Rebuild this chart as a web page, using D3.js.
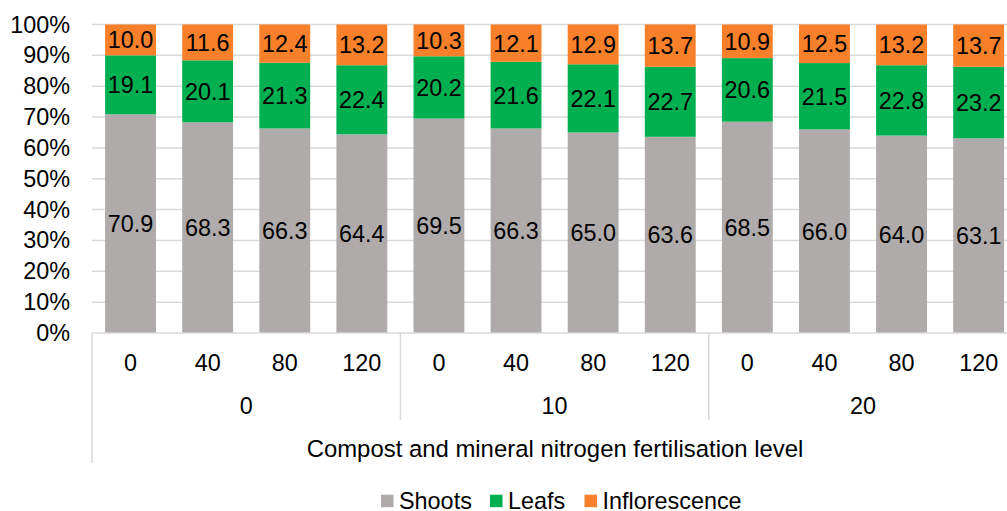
<!DOCTYPE html>
<html>
<head>
<meta charset="utf-8">
<script src="https://cdn.jsdelivr.net/npm/d3@7"></script>
<style>
  html, body { margin: 0; padding: 0; background: #fff; overflow: hidden; }
  svg { display: block; font-family: "Liberation Sans", Arial, sans-serif; }
</style>
</head>
<body>
<svg id="chart" width="1007" height="511"></svg>
<script>
// Nitrogen levels within each compost group, and the compost groups
const nitrogenLevels = ["0", "40", "80", "120"];
const compostLevels = ["0", "10", "20"];

// Share of biomass (%) per plant part, one value per bar (compost x nitrogen)
const shoots        = [70.9, 68.3, 66.3, 64.4, 69.5, 66.3, 65.0, 63.6, 68.5, 66.0, 64.0, 63.1];
const leafs         = [19.1, 20.1, 21.3, 22.4, 20.2, 21.6, 22.1, 22.7, 20.6, 21.5, 22.8, 23.2];
const inflorescence = [10.0, 11.6, 12.4, 13.2, 10.3, 12.1, 12.9, 13.7, 10.9, 12.5, 13.2, 13.7];

const seriesNames  = ["Shoots", "Leafs", "Inflorescence"];
const seriesColors = ["#AFABAB", "#00B050", "#F8802A"];
const yTicks = [0, 10, 20, 30, 40, 50, 60, 70, 80, 90, 100];
const axisTitle = "Compost and mineral nitrogen fertilisation level";

// Flat table of bars
const rows = [];
compostLevels.forEach((c, gi) => {
  nitrogenLevels.forEach((n, ni) => {
    const i = gi * nitrogenLevels.length + ni;
    rows.push({ key: c + "|" + n, compost: c, nitrogen: n,
                Shoots: shoots[i], Leafs: leafs[i], Inflorescence: inflorescence[i] });
  });
});

const svg = d3.select("#chart");
const fontSize = 23.4;
const plotLeft = 92, step = 77.1;
const plotRight = plotLeft + step * rows.length;
const plotTop = 24.5, plotBottom = 333;

const x = d3.scaleBand()
  .domain(rows.map(d => d.key))
  .range([plotLeft, plotRight])
  .paddingInner(0.34)
  .paddingOuter(0.17);

const y = d3.scaleLinear().domain([0, 100]).range([plotBottom, plotTop]);

const color = d3.scaleOrdinal().domain(seriesNames).range(seriesColors);

// Horizontal gridlines
svg.append("g")
  .selectAll("line")
  .data(yTicks.filter(t => t > 0))
  .join("line")
  .attr("x1", plotLeft).attr("x2", plotRight)
  .attr("y1", d => y(d)).attr("y2", d => y(d))
  .attr("stroke", "#D9D9D9").attr("stroke-width", 1.5);

// Y axis labels
const yAxis = svg.append("g")
  .attr("transform", `translate(${plotLeft},0)`)
  .call(d3.axisLeft(y).tickValues(yTicks).tickFormat(d => d + "%").tickSize(0).tickPadding(22));
yAxis.select(".domain").remove();
yAxis.selectAll("text")
  .attr("font-size", fontSize)
  .attr("font-family", "Liberation Sans, Arial, sans-serif")
  .attr("fill", "#000");

// Stacked bars
const stack = d3.stack().keys(seriesNames);
const layers = stack(rows);

const layerG = svg.append("g")
  .selectAll("g")
  .data(layers)
  .join("g")
  .attr("fill", d => color(d.key));

layerG.selectAll("rect")
  .data(d => d)
  .join("rect")
  .attr("x", d => x(d.data.key))
  .attr("width", x.bandwidth())
  .attr("y", d => y(d[1]))
  .attr("height", d => y(d[0]) - y(d[1]));

// Value labels at segment centres
layerG.selectAll("text")
  .data(d => d.map(s => ({ s, key: d.key })))
  .join("text")
  .attr("x", d => x(d.s.data.key) + x.bandwidth() / 2)
  .attr("y", d => y((d.s[0] + d.s[1]) / 2))
  .attr("dy", "0.36em")
  .attr("text-anchor", "middle")
  .attr("font-size", fontSize)
  .attr("fill", "#000")
  .text(d => d.s.data[d.key].toFixed(1));

// X axis baseline
svg.append("line")
  .attr("x1", plotLeft).attr("x2", plotRight)
  .attr("y1", plotBottom).attr("y2", plotBottom)
  .attr("stroke", "#D9D9D9").attr("stroke-width", 1.5);

// Category level labels (nitrogen)
const catY = 363, groupY = 406, titleY = 448;
svg.append("g")
  .selectAll("text")
  .data(rows)
  .join("text")
  .attr("x", d => x(d.key) + x.bandwidth() / 2)
  .attr("y", catY)
  .attr("dy", "0.36em")
  .attr("text-anchor", "middle")
  .attr("font-size", fontSize)
  .attr("fill", "#000")
  .text(d => d.nitrogen);

// Group level labels (compost) and separators
const groupSpan = step * nitrogenLevels.length;
svg.append("g")
  .selectAll("text")
  .data(compostLevels)
  .join("text")
  .attr("x", (d, i) => plotLeft + groupSpan * i + groupSpan / 2)
  .attr("y", groupY)
  .attr("dy", "0.36em")
  .attr("text-anchor", "middle")
  .attr("font-size", fontSize)
  .attr("fill", "#000")
  .text(d => d);

svg.append("g")
  .selectAll("line")
  .data(d3.range(1, compostLevels.length + 1))
  .join("line")
  .attr("x1", i => plotLeft + groupSpan * i).attr("x2", i => plotLeft + groupSpan * i)
  .attr("y1", plotBottom).attr("y2", 420)
  .attr("stroke", "#D9D9D9").attr("stroke-width", 1.5);

// Outer left boundary of the axis area
svg.append("line")
  .attr("x1", plotLeft).attr("x2", plotLeft)
  .attr("y1", plotBottom).attr("y2", 463)
  .attr("stroke", "#D9D9D9").attr("stroke-width", 1.5);

// Axis title
svg.append("text")
  .attr("x", 555)
  .attr("y", titleY)
  .attr("dy", "0.36em")
  .attr("text-anchor", "middle")
  .attr("font-size", 23.9)
  .attr("fill", "#000")
  .text(axisTitle);

// Legend
const legendStarts = [381, 490, 584.5];
const legend = svg.append("g")
  .selectAll("g")
  .data(seriesNames)
  .join("g")
  .attr("transform", (d, i) => `translate(${legendStarts[i]},501)`);
legend.append("rect")
  .attr("x", 0).attr("y", -6.3)
  .attr("width", 12.5).attr("height", 12.5)
  .attr("fill", d => color(d));
legend.append("text")
  .attr("x", 18)
  .attr("dy", "0.36em")
  .attr("font-size", fontSize)
  .attr("fill", "#000")
  .text(d => d);
</script>
</body>
</html>
